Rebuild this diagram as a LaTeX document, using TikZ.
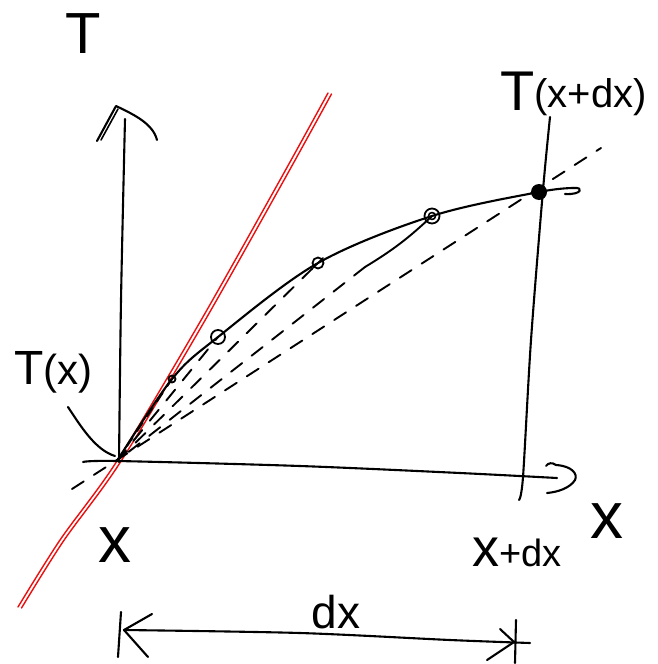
\documentclass[tikz,border=0pt]{standalone}
\usepackage{fontspec}
\setmainfont{Liberation Sans}
\begin{document}
\begin{tikzpicture}[x=1pt,y=-1pt,
  ink/.style={line width=2.1pt, line cap=round, line join=round},
  chord/.style={line width=1.9pt, line cap=round, dash pattern=on 14pt off 12pt},
  redline/.style={draw={rgb,255:red,235;green,15;blue,15}, line width=1.4pt, line cap=round},
  lbl/.style={inner sep=0pt, font=\fontsize{#1}{#1}\selectfont}]
\useasboundingbox (0,0) rectangle (657,664);
\fill[white] (0,0) rectangle (657,664);
% key points
\coordinate (O) at (117,461);
\coordinate (P1) at (172,379);
\coordinate (P2) at (218,337);
\coordinate (P3) at (318,263);
\coordinate (P4) at (432,216);
\coordinate (P5) at (539,192);
\coordinate (E1) at (574,188);
\coordinate (E2) at (565,194);
% red tangent (two hand strokes)
\coordinate (R0) at (18,607);
\coordinate (R1) at (60,540);
\coordinate (R2) at (200,322);
\coordinate (R3) at (280,180);
\coordinate (R4) at (328,93);
\draw[redline] plot[smooth] coordinates {(R0) (R1) (O) (R2) (R3) (R4)};
\draw[redline, transform canvas={xshift=3.5pt, yshift=-1pt}] plot[smooth] coordinates {(R0) (R1) (O) (R2) (R3) (R4)};
% chords
\coordinate (C1a) at (72,489);
\coordinate (C1b) at (601,148);
\draw[chord] (C1a) -- (C1b);
\coordinate (S2) at (365,267);
\draw[ink, line width=1.9pt] (P4) to[bend left=6] (S2);
\draw[chord] (S2) -- (O);
\draw[chord] (O) -- (P3);
\draw[chord] (O) -- (P2);
\draw[chord, dash pattern=on 10pt off 8pt] (O) -- (P1);
% curve
\draw[ink] plot[smooth, tension=0.55] coordinates {(O) (P1) (P2) (P3) (P4) (P5) (E1)};
\draw[ink] (E1) .. controls (584,187) and (582,195) .. (E2);
% markers
\draw[ink, line width=1.8pt] (P1) circle[radius=3.5pt];
\draw[ink, line width=1.8pt] (P2) circle[radius=7pt];
\draw[ink, line width=1.8pt] (P3) circle[radius=5.5pt];
\coordinate (X3a) at (313,268);
\coordinate (X3b) at (323,258);
\draw[ink, line width=1.6pt] (X3a) -- (X3b);
\draw[ink, line width=1.8pt] (P4) circle[radius=7.5pt];
\draw[ink, line width=1.6pt] (P4) circle[radius=3.5pt];
\fill (P5) circle[radius=8pt];
% vertical axis T
\coordinate (Yb) at (119,462);
\coordinate (Ym) at (121,300);
\coordinate (Yt) at (125,119);
\draw[ink] plot[smooth] coordinates {(Yb) (Ym) (Yt)};
\coordinate (YA1) at (97,141);
\coordinate (YA2) at (116,106);
\coordinate (YA3) at (157,140);
\coordinate (YA4) at (101,140);
\coordinate (YA5) at (118,109);
\draw[ink] (YA1) -- (YA2) .. controls (135,115) and (153,124) .. (YA3);
\draw[ink, line width=1.6pt] (YA4) -- (YA5);
% horizontal axis x
\coordinate (Xa) at (83,462);
\coordinate (Xb) at (300,466);
\coordinate (Xc) at (460,473);
\coordinate (Xd) at (557,478);
\draw[ink] plot[smooth] coordinates {(Xa) (O) (Xb) (Xc) (Xd)};
\coordinate (H1) at (546,466);
\coordinate (H2) at (556,465);
\coordinate (H3) at (575,480);
\coordinate (H4) at (547,493);
\draw[ink] (H1) .. controls (548,463) and (552,462) .. (H2)
  .. controls (572,466) and (578,474) .. (H3)
  .. controls (570,488) and (558,492) .. (H4);
% vertical line at x+dx
\coordinate (V1) at (550,117);
\coordinate (V2) at (543,190);
\coordinate (V3) at (531,340);
\coordinate (V4) at (523,477);
\coordinate (V5) at (519,500);
\draw[ink] plot[smooth] coordinates {(V1) (V2) (V3) (V4) (V5)};
% T(x) leader
\coordinate (L1) at (68,407);
\coordinate (L2) at (115,456);
\draw[ink] (L1) .. controls (80,425) and (95,450) .. (L2);
% dx dimension
\coordinate (D1) at (124,630);
\coordinate (D2) at (300,633);
\coordinate (D3) at (450,640);
\coordinate (D4) at (530,643);
\draw[ink] plot[smooth] coordinates {(D1) (D2) (D3) (D4)};
\coordinate (DB1) at (121,612);
\coordinate (DB2) at (118,657);
\draw[ink] (DB1) -- (DB2);
\coordinate (DA1) at (152,614);
\coordinate (DA2) at (148,657);
\draw[ink] (DA1) -- (D1) -- (DA2);
\coordinate (DB3) at (516,620);
\coordinate (DB4) at (515,663);
\draw[ink] (DB3) -- (DB4);
\coordinate (DA3) at (500,629);
\coordinate (DA4) at (514,642);
\coordinate (DA5) at (487,660);
\draw[ink] (DA3) -- (DA4) -- (DA5);
% labels
\node[lbl=58] (tT) at (83,34) {T};
\node[lbl=48, anchor=base west] (tTx) at (14,384) {T\fontsize{42}{42}\selectfont(x)};
\node[lbl=56, anchor=base west] (tTxdx) at (500,110) {T\fontsize{40}{40}\selectfont\raisebox{3pt}{(x+dx)}};
\node[lbl=66] (tx0) at (115,545) {x};
\node[lbl=54, anchor=base west] (txdx) at (472,566) {x\fontsize{38}{38}\selectfont+dx};
\node[lbl=66] (txax) at (607,521) {x};
\node[lbl=46] (tdx) at (336,612) {dx};
\end{tikzpicture}
\end{document}
